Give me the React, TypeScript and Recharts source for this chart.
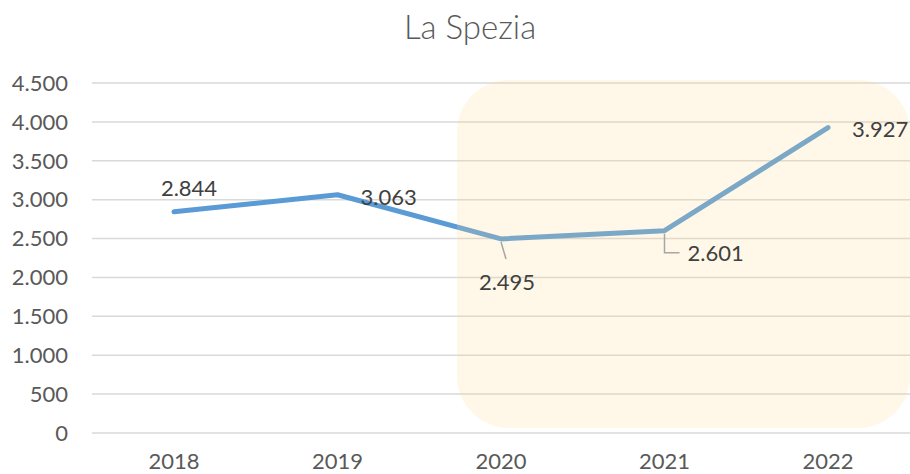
import React from 'react';
import { LineChart, Line, XAxis, YAxis, CartesianGrid, ReferenceArea } from 'recharts';

const YEARS = ['2018', '2019', '2020', '2021', '2022'];
const VALUES = [2844, 3063, 2495, 2601, 3927];
const Y_TICKS = [0, 500, 1000, 1500, 2000, 2500, 3000, 3500, 4000, 4500];

const FONT = 'Lato, "Open Sans", sans-serif';

// where each data label sits relative to its point
const LABEL_POS = [
  { dx: 15, dy: -24, anchor: 'middle', leader: null },
  { dx: 23, dy: 2, anchor: 'start', leader: null },
  { dx: 6, dy: 43, anchor: 'middle', leader: 'diag' },
  { dx: 23, dy: 22, anchor: 'start', leader: 'elbow' },
  { dx: 24, dy: 1, anchor: 'start', leader: null },
];

const fmt = (v: number) => String(v).replace(/\B(?=(\d{3})+(?!\d))/g, '.');

const data = YEARS.map((year, i) => ({ year, value: VALUES[i] }));

const renderLabel = (props: any) => {
  const { x, y, index, value } = props;
  const p = LABEL_POS[index];
  if (!p) return null;
  return (
    <g key={`lbl-${index}`}>
      {p.leader === 'diag' && (
        <line x1={x} y1={y + 3} x2={x + 5} y2={y + 20} stroke="#A6A6A6" strokeWidth={1.5} />
      )}
      {p.leader === 'elbow' && (
        <polyline
          points={`${x},${y + 3} ${x},${y + 22} ${x + 15},${y + 22}`}
          fill="none"
          stroke="#A6A6A6"
          strokeWidth={1.5}
        />
      )}
      <text
        x={x + p.dx}
        y={y + p.dy}
        textAnchor={p.anchor}
        dominantBaseline="central"
        fontFamily={FONT}
        fontSize={22}
        fill="#404040"
      >
        {fmt(value)}
      </text>
    </g>
  );
};

// soft highlight box from a bit left of 2020 to the right edge of the plot
const Highlight = (props: any) => {
  const { x, y, width, height } = props;
  return (
    <rect
      x={x - 44}
      y={y - 3}
      width={width + 126}
      height={height - 2}
      rx={52}
      ry={52}
      fill="rgb(255,220,140)"
      fillOpacity={0.2}
    />
  );
};

export default function App() {
  return (
    <div style={{ position: 'absolute', left: 0, top: 0, width: 910, height: 474, background: '#fff' }}>
      <div
        style={{
          position: 'absolute',
          top: 6,
          left: 30,
          width: 880,
          textAlign: 'center',
          fontFamily: FONT,
          fontSize: 33,
          fontWeight: 300,
          color: '#595959',
        }}
      >
        La Spezia
      </div>
      <LineChart width={910} height={474} data={data} margin={{ top: 83, right: 0, bottom: 11, left: 0 }}>
        <CartesianGrid vertical={false} stroke="#D9D9D9" strokeWidth={1.5} />
        <XAxis
          dataKey="year"
          axisLine={false}
          tickLine={false}
          padding={{ left: 82, right: 82 }}
          height={30}
          tickMargin={14}
          tick={{ fontFamily: FONT, fontSize: 22, fill: '#595959' }}
        />
        <YAxis
          domain={[0, 4500]}
          ticks={Y_TICKS}
          interval={0}
          width={92}
          axisLine={false}
          tickLine={false}
          tickMargin={18}
          tickFormatter={fmt}
          tick={{ fontFamily: FONT, fontSize: 22, fill: '#595959' }}
        />
        <Line
          type="linear"
          dataKey="value"
          stroke="#5B9BD5"
          strokeWidth={5}
          strokeLinecap="round"
          strokeLinejoin="round"
          dot={false}
          activeDot={false}
          label={renderLabel}
          isAnimationActive={false}
        />
        <ReferenceArea
          x1="2020"
          x2="2022"
          y1={0}
          y2={4500}
          shape={Highlight}
          ifOverflow="visible"
          zIndex={1000}
        />
      </LineChart>
    </div>
  );
}
